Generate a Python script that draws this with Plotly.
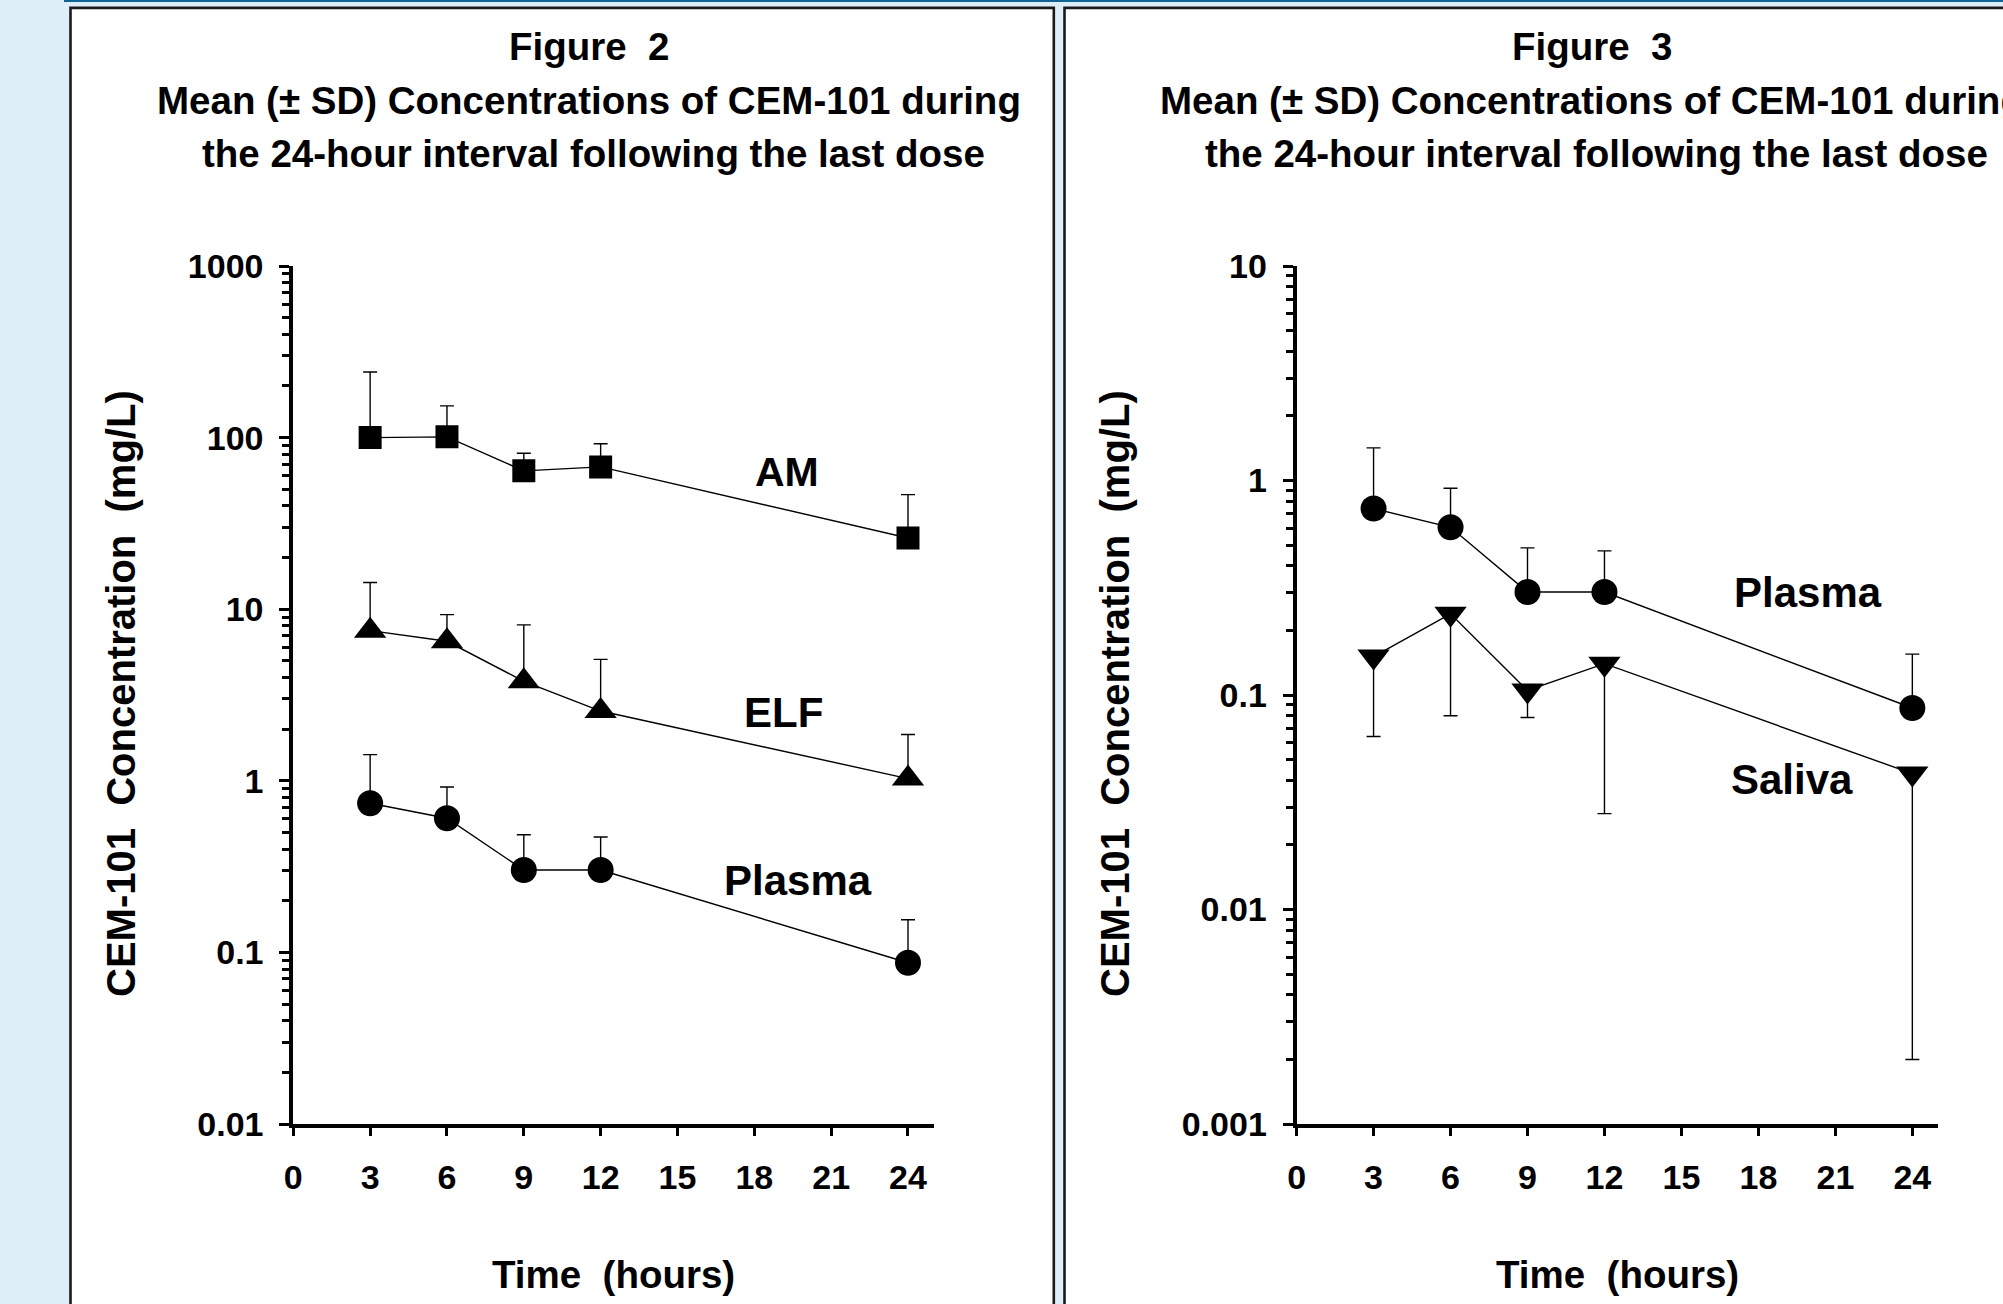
import plotly.graph_objects as go

W, H = 2003, 1304

# ---------------- data ----------------
time_h = [3, 6, 9, 12, 24]

am_mean = [100, 101, 64, 67.5, 26]
am_upper = [241, 153, 81, 92, 46.5]

elf_mean = [7.5, 6.5, 3.8, 2.55, 1.03]
elf_upper = [14.3, 9.3, 8.1, 5.1, 1.86]

plasma_mean = [0.74, 0.605, 0.302, 0.302, 0.087]
plasma_upper = [1.42, 0.92, 0.485, 0.47, 0.155]

saliva_mean = [0.151, 0.239, 0.105, 0.14, 0.043]
saliva_lower = [0.064, 0.080, 0.0785, 0.028, 0.002]

x_ticks = [0, 3, 6, 9, 12, 15, 18, 21, 24]
y2_ticks = [0.01, 0.1, 1, 10, 100, 1000]
y2_labels = ["0.01", "0.1", "1", "10", "100", "1000"]
y3_ticks = [0.001, 0.01, 0.1, 1, 10]
y3_labels = ["0.001", "0.01", "0.1", "1", "10"]

FONT = "Liberation Sans, Arial, sans-serif"


def px(x):
    return x / W


def py(y):
    return 1 - y / H


def minor_vals(lo_exp, hi_exp):
    return [k * 10 ** e for e in range(lo_exp, hi_exp) for k in range(2, 10)]


def upper_err(mean, upper):
    return [u - m for m, u in zip(mean, upper)]


def lower_err(mean, lower):
    return [m - l for m, l in zip(mean, lower)]


zeros = [0] * len(time_h)

fig = go.Figure()


def add_series(xa, ya, mean, plus, minus, symbol, size):
    fig.add_trace(go.Scatter(
        x=time_h, y=mean, mode="lines+markers",
        xaxis=xa, yaxis=ya,
        line=dict(color="black", width=1.4),
        marker=dict(symbol=symbol, size=size, color="black"),
        error_y=dict(type="data", symmetric=False, array=plus, arrayminus=minus,
                     color="black", thickness=1.4, width=7),
        showlegend=False, hoverinfo="x+y",
    ))


# Figure 2
add_series("x", "y", am_mean, upper_err(am_mean, am_upper), zeros, "square", 23)
add_series("x", "y", elf_mean, upper_err(elf_mean, elf_upper), zeros, "triangle-up", 28)
add_series("x", "y", plasma_mean, upper_err(plasma_mean, plasma_upper), zeros, "circle", 26)
# Figure 3
add_series("x2", "y2", plasma_mean, upper_err(plasma_mean, plasma_upper), zeros, "circle", 26)
add_series("x2", "y2", saliva_mean, zeros, lower_err(saliva_mean, saliva_lower), "triangle-down", 28)

y_dom = [py(1124), py(266)]

tickfont = dict(family=FONT, size=34, color="black", weight="bold")

common_x = dict(range=[0, 25], tickvals=x_ticks, ticks="outside", ticklen=8, tickwidth=3,
                tickcolor="black", showline=True, linewidth=4, linecolor="black",
                showgrid=False, zeroline=False, tickfont=tickfont, fixedrange=True,
                automargin=False, ticklabelstandoff=12)
common_y = dict(type="log", ticks="outside", ticklen=10, tickwidth=3, tickcolor="black",
                showline=True, linewidth=4, linecolor="black", showgrid=False,
                zeroline=False, tickfont=tickfont, domain=y_dom, fixedrange=True,
                automargin=False, ticklabelstandoff=9)

fig.update_layout(
    width=W, height=H,
    margin=dict(l=0, r=0, t=0, b=0, pad=0, autoexpand=False),
    paper_bgcolor="#ddeef8",
    plot_bgcolor="rgba(0,0,0,0)",
    xaxis=dict(domain=[px(293.3), px(933.6)], anchor="y", **common_x),
    yaxis=dict(range=[-2, 3], tickvals=y2_ticks, ticktext=y2_labels, anchor="x",
               minor=dict(tickvals=minor_vals(-2, 3), ticks="outside", ticklen=7,
                          tickwidth=3, tickcolor="black", showgrid=False),
               **common_y),
    xaxis2=dict(domain=[px(1296.6), px(1938)], anchor="y2", **common_x),
    yaxis2=dict(range=[-3, 1], tickvals=y3_ticks, ticktext=y3_labels, anchor="x2",
                minor=dict(tickvals=minor_vals(-3, 1), ticks="outside", ticklen=7,
                           tickwidth=3, tickcolor="black", showgrid=False),
                **common_y),
)

# panels and page decoration
shapes = [
    dict(type="rect", xref="paper", yref="paper", x0=px(64), x1=px(2003), y0=py(0), y1=py(2),
         fillcolor="#0e6495", line=dict(width=0), layer="below"),
    dict(type="rect", xref="paper", yref="paper", x0=px(70.5), x1=px(1053.8), y0=py(7.9), y1=py(1320),
         fillcolor="white", line=dict(color="#1a1a1a", width=2.6), layer="below"),
    dict(type="rect", xref="paper", yref="paper", x0=px(1064.5), x1=px(2030), y0=py(7.9), y1=py(1320),
         fillcolor="white", line=dict(color="#1a1a1a", width=2.6), layer="below"),
]
fig.update_layout(shapes=shapes)

annotations = []


def text(x, y, s, size, angle=0):
    annotations.append(dict(xref="paper", yref="paper", x=px(x), y=py(y), text=s,
                            showarrow=False, xanchor="center", yanchor="middle",
                            textangle=angle,
                            font=dict(family=FONT, size=size, color="black", weight="bold")))


title_lines = ["Mean (\u00b1 SD) Concentrations of CEM-101 during",
               "the 24-hour interval following the last dose"]

for cx, num in [(589, "2"), (1592, "3")]:
    text(cx, 47, "Figure  " + num, 38.5)
    text(cx, 101, title_lines[0], 38.5)
    text(cx + 4, 153, title_lines[1], 38.5)

# axis titles
text(121, 694, "CEM-101  Concentration  (mg/L)", 40, -90)
text(1115, 694, "CEM-101  Concentration  (mg/L)", 40, -90)
text(613.5, 1274, "Time  (hours)", 38.5)
text(1617, 1274, "Time  (hours)", 38.5)

# series labels
text(787, 472, "AM", 41)
text(783, 712, "ELF", 42)
text(798, 880, "Plasma", 42)
text(1808, 592, "Plasma", 42)
text(1792, 779, "Saliva", 42)

fig.update_layout(annotations=annotations)

fig.write_html(
    "out.html",
    config=dict(displayModeBar=False),
    post_script=("document.documentElement.style.margin='0';"
                 "document.documentElement.style.padding='0';"
                 "document.documentElement.style.overflow='hidden';"
                 "document.body.style.margin='0';"
                 "document.body.style.padding='0';"
                 "document.body.style.overflow='hidden';"),
)
